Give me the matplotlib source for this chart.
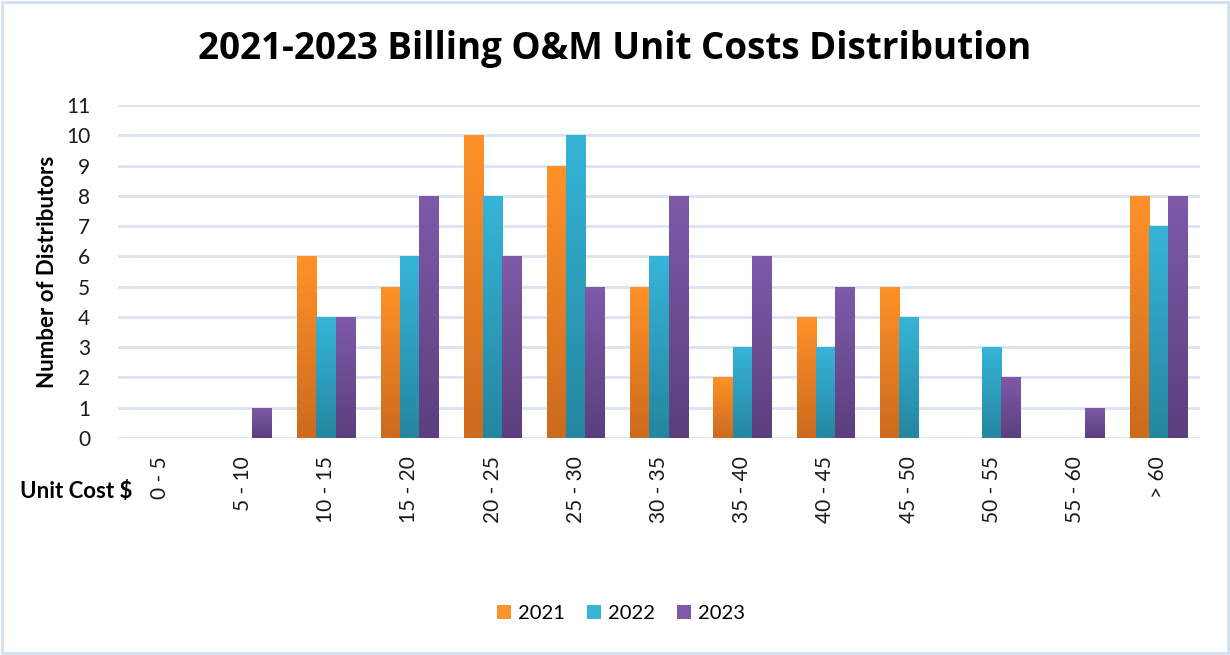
import numpy as np
import matplotlib.pyplot as plt
from matplotlib.colors import LinearSegmentedColormap
from matplotlib.patches import Rectangle, Patch

# Data
categories = ['0 - 5', '5 - 10', '10 - 15', '15 - 20', '20 - 25', '25 - 30', '30 - 35',
              '35 - 40', '40 - 45', '45 - 50', '50 - 55', '55 - 60', '> 60']
years = ['2021', '2022', '2023']
counts_2021 = [0, 0, 6, 5, 10, 9, 5, 2, 4, 5, 0, 0, 8]
counts_2022 = [0, 0, 4, 6, 8, 10, 6, 3, 3, 4, 3, 0, 7]
counts_2023 = [0, 1, 4, 8, 6, 5, 8, 6, 5, 0, 2, 1, 8]

# (top colour, bottom colour) for each series gradient
grad_colors = [('#FF9228', '#CC6A1E'), ('#36B5D9', '#25869F'), ('#7E5AA9', '#5B3F7E')]

plt.rcParams['font.family'] = ['Lato', 'DejaVu Sans']

fig = plt.figure(figsize=(12.3, 6.55), dpi=100)
fig.patches.append(Rectangle((0.002, 0.003), 0.996, 0.994, transform=fig.transFigure,
                             fill=False, edgecolor='#D3E0F0', linewidth=2))
ax = fig.add_axes([0.0959, 0.3313, 0.8797, 0.5084])

x = np.arange(len(categories))
w = 0.23
series = [counts_2021, counts_2022, counts_2023]

ax.set_xlim(-0.5, len(categories) - 0.5)
ax.set_ylim(0, 11)

for i, vals in enumerate(series):
    cmap = LinearSegmentedColormap.from_list('g%d' % i, [grad_colors[i][1], grad_colors[i][0]])
    bars = ax.bar(x + (i - 1) * w, vals, width=w, color='none', edgecolor='none', zorder=3)
    for b in bars:
        h = b.get_height()
        if h <= 0:
            continue
        x0 = b.get_x()
        grad = np.linspace(0, 1, 256).reshape(-1, 1)
        # dark at the bottom, light at the top
        im = ax.imshow(grad, cmap=cmap, origin='lower', aspect='auto',
                       extent=(x0, x0 + w, 0, h), zorder=3, interpolation='bicubic')
        im.set_clip_path(b)

ax.set_xlim(-0.5, len(categories) - 0.5)
ax.set_ylim(0, 11)

ax.set_yticks(range(0, 12))
ax.yaxis.grid(True, color='#D9E3F1', linewidth=2)
ax.set_axisbelow(True)
for s in ax.spines.values():
    s.set_visible(False)
ax.tick_params(axis='both', length=0, labelsize=15, colors='#1a1a1a')
ax.tick_params(axis='y', pad=20)
ax.set_xticks(x)
ax.set_xticklabels(categories, rotation=90, fontsize=15)
ax.tick_params(axis='x', pad=13)

ax.set_ylabel('Number of Distributors', fontsize=16, fontweight='bold', labelpad=6)
fig.text(0.062, 0.249, 'Unit Cost $', fontsize=16, fontweight='bold', ha='center', va='center')

fig.text(0.5, 0.925, '2021-2023 Billing O&M Unit Costs Distribution', fontsize=26.5,
         fontweight='bold', ha='center', va='center', family=['Open Sans', 'DejaVu Sans'])

handles = [Patch(facecolor=c[0], edgecolor='none') for c in grad_colors]
fig.legend(handles, years, loc='center', bbox_to_anchor=(0.505, 0.063), ncol=3,
           frameon=False, fontsize=14.5, handlelength=0.7, handleheight=0.7,
           columnspacing=1.1, handletextpad=0.35)

fig.savefig('out.png', dpi=100)
